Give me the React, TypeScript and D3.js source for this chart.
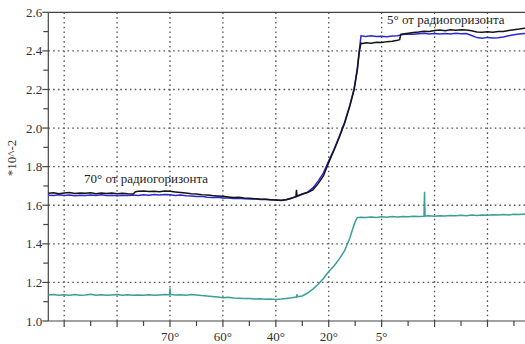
import React from "react";
import * as d3 from "d3";

// x positions are in chart units (grid lines every 10 units)
const blackX = [7,8,9,10,11,12,13,14,15,16,17,18,19,20,21,22,23,23.5,24,25,26,27,28,29,30,31,32,33,34,35,36,37,38,39,40,41,42,43,44,45,46,47,48,49,50,51,52,53,53.8,53.9,54,55,56,57,58,59,60,61,62,63,64,64.8,65.4,65.8,66.1,66.5,67,68,69,70,71,72,73,73.4,73.6,74,75,76,77,78,79,80,81,82,83,84,85,86,87,88,89,90,91,92,93,94,95,96,97,98];
const blackY = [1.662,1.665,1.660,1.663,1.666,1.661,1.664,1.662,1.665,1.660,1.663,1.661,1.664,1.660,1.662,1.659,1.658,1.670,1.672,1.674,1.671,1.673,1.670,1.674,1.672,1.669,1.666,1.663,1.660,1.658,1.655,1.653,1.650,1.648,1.646,1.643,1.640,1.641,1.637,1.636,1.634,1.632,1.631,1.629,1.627,1.624,1.628,1.636,1.645,1.680,1.648,1.658,1.666,1.680,1.712,1.752,1.822,1.885,1.952,2.025,2.115,2.200,2.300,2.400,2.440,2.438,2.442,2.440,2.445,2.443,2.448,2.450,2.455,2.458,2.486,2.488,2.492,2.495,2.498,2.502,2.500,2.506,2.508,2.505,2.509,2.507,2.510,2.508,2.504,2.498,2.496,2.499,2.497,2.501,2.500,2.506,2.510,2.513,2.517,2.518];

const blueX = [7,8,9,10,11,12,13,14,15,16,17,18,19,20,21,22,23,24,25,26,27,28,29,30,31,32,33,34,35,36,37,38,39,40,41,42,43,44,45,46,47,48,49,50,51,52,53,54,55,56,57,58,59,60,61,62,63,64,64.8,65.4,65.8,66.1,67,68,69,70,71,72,73,74,75,76,77,78,79,80,81,82,83,84,85,86,87,88,89,90,91,92,93,94,95,96,97,98];
const blueY = [1.652,1.650,1.654,1.651,1.653,1.649,1.652,1.650,1.653,1.651,1.654,1.650,1.652,1.649,1.652,1.650,1.653,1.651,1.654,1.652,1.655,1.653,1.656,1.654,1.651,1.653,1.649,1.648,1.645,1.646,1.642,1.640,1.641,1.637,1.638,1.635,1.636,1.633,1.632,1.634,1.630,1.631,1.628,1.627,1.626,1.630,1.637,1.645,1.657,1.668,1.690,1.725,1.768,1.830,1.890,1.958,2.030,2.120,2.205,2.310,2.410,2.478,2.475,2.478,2.474,2.476,2.473,2.477,2.479,2.485,2.488,2.486,2.489,2.491,2.488,2.490,2.487,2.490,2.488,2.491,2.489,2.490,2.480,2.469,2.466,2.470,2.467,2.468,2.472,2.478,2.484,2.487,2.490,2.491];

const tealX = [7,8,9,10,11,12,13,14,15,16,17,18,19,20,21,22,23,24,25,26,27,28,29,29.9,30,30.1,31,32,33,34,35,36,37,38,39,40,41,42,43,44,45,46,47,48,49,50,51,52,53,53.9,54,54.1,55,56,57,58,59,60,61,62,63,64,64.5,65,65.4,66,67,68,69,70,71,72,73,74,75,76,77,78,78.1,78.2,79,80,81,82,83,84,85,86,87,88,89,90,91,92,93,94,95,96,97,98];
const tealY = [1.135,1.137,1.133,1.136,1.134,1.137,1.133,1.135,1.138,1.134,1.136,1.133,1.135,1.137,1.134,1.136,1.133,1.135,1.134,1.136,1.133,1.135,1.137,1.136,1.170,1.138,1.135,1.136,1.134,1.137,1.135,1.132,1.130,1.127,1.124,1.121,1.123,1.119,1.118,1.116,1.117,1.114,1.115,1.113,1.114,1.112,1.114,1.117,1.120,1.124,1.138,1.126,1.130,1.145,1.165,1.190,1.220,1.256,1.285,1.322,1.365,1.430,1.475,1.515,1.536,1.538,1.536,1.539,1.537,1.540,1.538,1.541,1.539,1.542,1.540,1.543,1.541,1.543,1.670,1.544,1.545,1.543,1.546,1.544,1.547,1.545,1.548,1.546,1.549,1.547,1.550,1.548,1.551,1.549,1.552,1.550,1.553,1.552,1.555,1.556];

const yTicks = [1.0, 1.2, 1.4, 1.6, 1.8, 2.0, 2.2, 2.4, 2.6];
const yMinorTicks = [1.1, 1.3, 1.5, 1.7, 1.9, 2.1, 2.3, 2.5];
const xGrid = [10, 20, 30, 40, 50, 60, 70, 80, 90, 100];
const xMinor = [15, 25, 35, 45, 55, 65, 75, 85, 95];
const xLabelPos = [30, 40, 50, 60, 70];
const xLabels = ["70°", "60°", "40°", "20°", "5°"];
const yAxisTitle = "*10^-2";
const note1 = "70° от радиогоризонта";
const note2 = "5° от радиогоризонта";

const W = 525;
const H = 344;
const FONT = "'Liberation Serif', 'DejaVu Serif', serif";

export default function App() {
  const x = d3.scaleLinear().domain([7, 100]).range([48.3, 540.4]);
  const y = d3.scaleLinear().domain([1.0, 2.6]).range([321, 12.3]);
  const line = d3
    .line<[number, number]>()
    .x((d) => x(d[0]))
    .y((d) => y(d[1]));
  const toPts = (xs: number[], ys: number[]) =>
    xs.map((v, i) => [v, ys[i]] as [number, number]);

  const x0 = x(7);
  const yTop = y(2.6);
  const yBot = y(1.0);
  const ts = { fontFamily: FONT };

  return (
    <svg
      width={W}
      height={H}
      style={{ position: "absolute", left: 0, top: 0, background: "#fff" }}
    >
      <rect width={W} height={H} fill="#fff" />
      {/* grid */}
      {xGrid.map((g) => (
        <line
          key={"vg" + g}
          x1={x(g)}
          x2={x(g)}
          y1={yTop}
          y2={yBot}
          stroke="#555"
          strokeWidth={1.3}
          strokeDasharray="1.6,3.2"
        />
      ))}
      {yTicks.slice(1, -1).map((t) => (
        <line
          key={"hg" + t}
          x1={x0}
          x2={W}
          y1={y(t)}
          y2={y(t)}
          stroke="#555"
          strokeWidth={1.3}
          strokeDasharray="1.6,3.2"
        />
      ))}
      {/* frame */}
      <line x1={x0} x2={W} y1={yTop} y2={yTop} stroke="#444" strokeWidth={1.2} />
      <line x1={x0} x2={W} y1={yBot} y2={yBot} stroke="#444" strokeWidth={1.2} />
      <line x1={x0} x2={x0} y1={yTop} y2={yBot} stroke="#444" strokeWidth={1.2} />
      {/* y ticks */}
      {yTicks.map((t) => (
        <g key={"yt" + t}>
          <line x1={x0 - 6} x2={x0} y1={y(t)} y2={y(t)} stroke="#444" strokeWidth={1.2} />
          <text
            x={x0 - 6}
            y={y(t)}
            dy="0.35em"
            textAnchor="end"
            fontSize={13}
            fill="#333"
            style={ts}
          >
            {t.toFixed(1)}
          </text>
        </g>
      ))}
      {yMinorTicks.map((t) => (
        <line key={"ym" + t} x1={x0 - 5} x2={x0} y1={y(t)} y2={y(t)} stroke="#444" strokeWidth={1.2} />
      ))}
      {/* x ticks */}
      {xGrid.map((g) => (
        <line key={"xt" + g} x1={x(g)} x2={x(g)} y1={yBot} y2={yBot + 6} stroke="#444" strokeWidth={1.2} />
      ))}
      {xMinor.map((g) => (
        <line key={"xm" + g} x1={x(g)} x2={x(g)} y1={yBot} y2={yBot + 5} stroke="#444" strokeWidth={1.2} />
      ))}
      {xLabelPos.map((p, i) => (
        <text key={"xl" + p} x={x(p)} y={341} textAnchor="middle" fontSize={13} fill="#333" style={ts}>
          {xLabels[i]}
        </text>
      ))}
      <text
        transform={`translate(16,158) rotate(-90)`}
        textAnchor="middle"
        fontSize={13}
        fill="#333"
        style={ts}
      >
        {yAxisTitle}
      </text>
      {/* series */}
      <path d={line(toPts(tealX, tealY)) || ""} fill="none" stroke="#3a9f97" strokeWidth={1.5} />
      <path d={line(toPts(blueX, blueY)) || ""} fill="none" stroke="#2a2ad0" strokeWidth={1.5} />
      <path d={line(toPts(blackX, blackY)) || ""} fill="none" stroke="#151515" strokeWidth={1.5} />
      {/* notes */}
      <text x={84} y={183} fontSize={13} fill="#222" style={ts}>
        {note1}
      </text>
      <text x={387} y={24} fontSize={13} fill="#222" style={ts}>
        {note2}
      </text>
    </svg>
  );
}
